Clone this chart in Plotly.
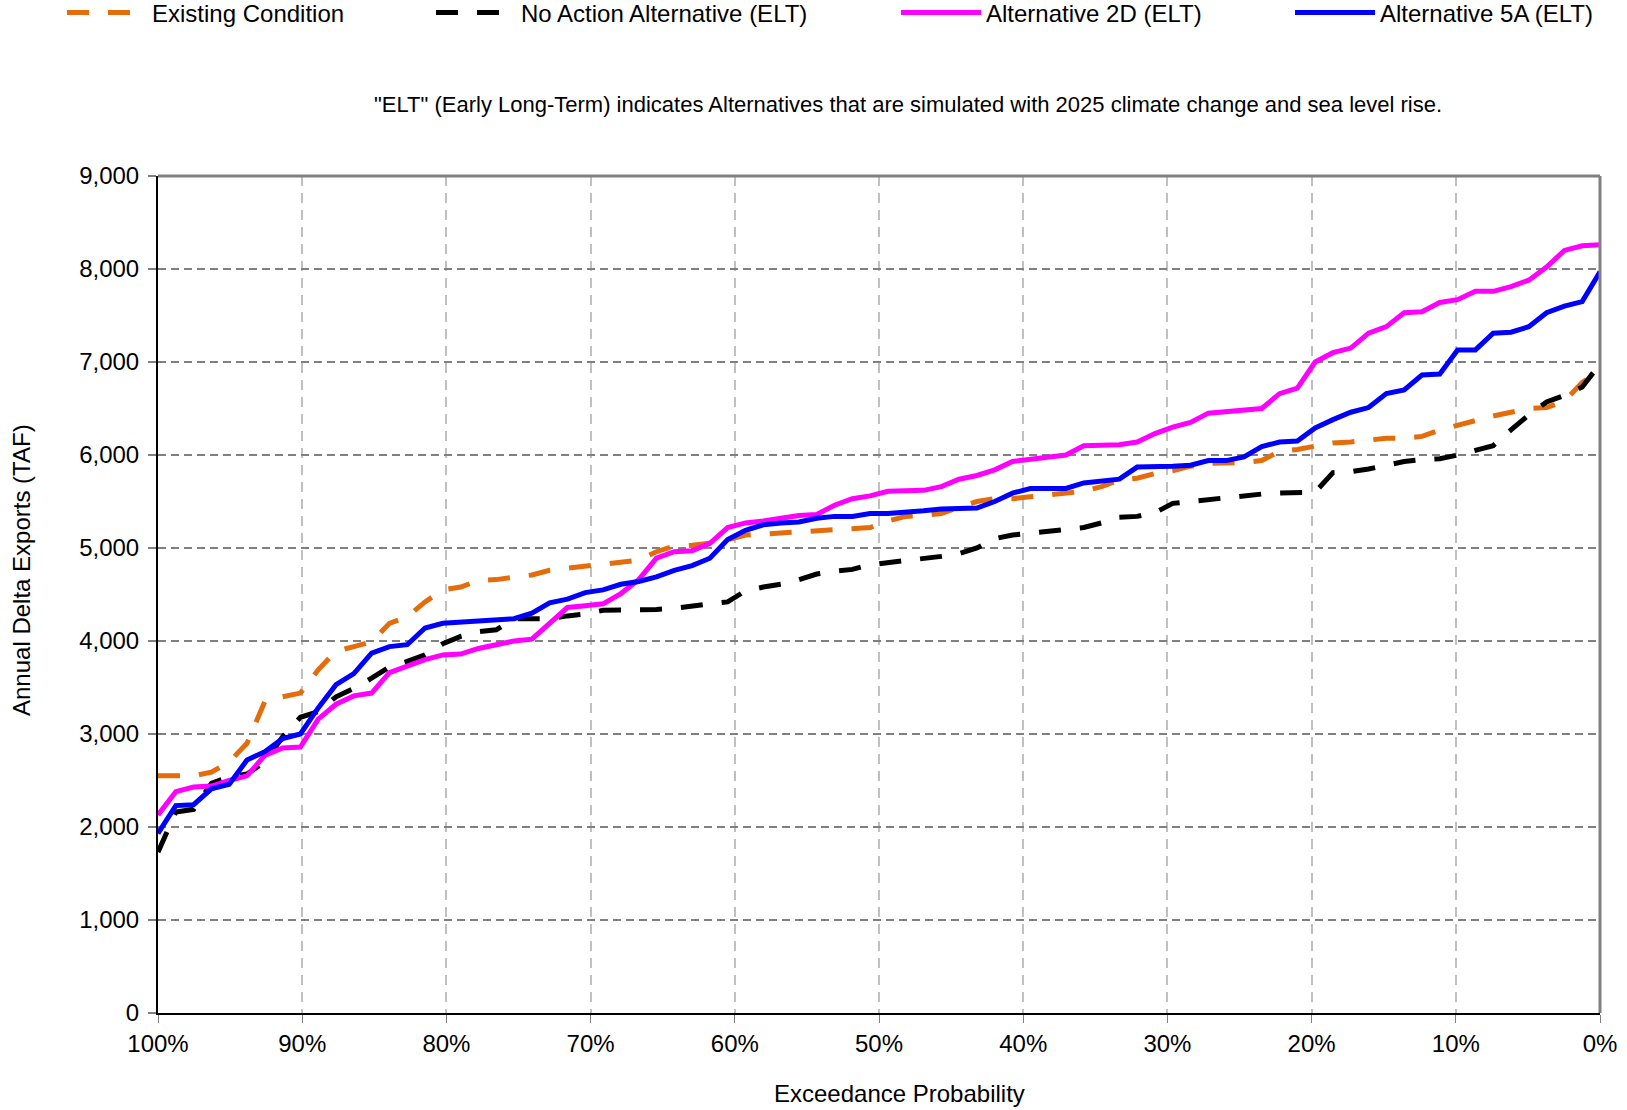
import plotly.graph_objects as go

# ---------------- data ----------------
N = 82
exceedance = [100.0 * (N - 1 - k) / (N - 1) for k in range(N)]

existing = [2550, 2550, 2550, 2590, 2700, 2900, 3350, 3400, 3440, 3690,
            3890, 3940, 3990, 4190, 4260, 4420, 4550, 4580, 4650, 4660,
            4680, 4710, 4760, 4780, 4800, 4830, 4850, 4870, 4960, 5020,
            5030, 5050, 5090, 5140, 5150, 5160, 5180, 5180, 5190, 5200,
            5220, 5290, 5340, 5350, 5370, 5440, 5500, 5530, 5530, 5550,
            5570, 5580, 5610, 5660, 5730, 5750, 5800, 5830, 5880, 5910,
            5910, 5920, 5940, 6040, 6060, 6100, 6130, 6140, 6160, 6180,
            6180, 6200, 6270, 6320, 6380, 6420, 6460, 6500, 6510, 6580,
            6780, 6900]

no_action = [1730, 2160, 2190, 2470, 2540, 2570, 2700, 2970, 3180, 3240,
             3400, 3490, 3600, 3720, 3780, 3850, 3970, 4050, 4100, 4120,
             4240, 4240, 4240, 4270, 4290, 4330, 4330, 4330, 4340, 4350,
             4380, 4400, 4420, 4540, 4580, 4610, 4660, 4720, 4750, 4770,
             4820, 4840, 4860, 4880, 4910, 4940, 5000, 5100, 5140, 5160,
             5180, 5200, 5220, 5270, 5330, 5340, 5380, 5480, 5500, 5520,
             5550, 5570, 5580, 5590, 5590, 5600, 5810, 5820, 5850, 5890,
             5930, 5950, 5960, 6000, 6050, 6100, 6270, 6430, 6570, 6640,
             6730, 6980]

alt_2d = [2130, 2380, 2430, 2440, 2500, 2550, 2770, 2850, 2860, 3160,
          3320, 3410, 3440, 3660, 3730, 3800, 3850, 3860, 3920, 3960,
          4000, 4020, 4190, 4360, 4380, 4400, 4510, 4660, 4890, 4960,
          4970, 5050, 5220, 5270, 5290, 5320, 5350, 5360, 5460, 5530,
          5560, 5610, 5610, 5620, 5660, 5740, 5780, 5840, 5930, 5950,
          5980, 6000, 6100, 6110, 6110, 6140, 6230, 6300, 6350, 6450,
          6470, 6490, 6500, 6660, 6720, 7000, 7100, 7150, 7310, 7380,
          7530, 7540, 7640, 7670, 7760, 7760, 7810, 7880, 8020, 8200,
          8250, 8260]

alt_5a = [1930, 2230, 2240, 2410, 2460, 2720, 2810, 2950, 3000, 3280,
          3530, 3650, 3870, 3940, 3960, 4140, 4190, 4200, 4210, 4230,
          4240, 4300, 4410, 4450, 4520, 4550, 4610, 4640, 4690, 4760,
          4810, 4890, 5090, 5190, 5250, 5270, 5280, 5320, 5340, 5340,
          5370, 5370, 5380, 5400, 5420, 5420, 5430, 5500, 5590, 5640,
          5640, 5640, 5700, 5720, 5740, 5870, 5870, 5880, 5890, 5940,
          5940, 5980, 6090, 6140, 6150, 6290, 6380, 6460, 6510, 6660,
          6700, 6860, 6870, 7130, 7130, 7310, 7320, 7380, 7530, 7600,
          7650, 7970]

series_names = ["Existing Condition", "No Action Alternative (ELT)",
                "Alternative 2D (ELT)", "Alternative 5A (ELT)"]
y_tick_values = [0, 1000, 2000, 3000, 4000, 5000, 6000, 7000, 8000, 9000]
x_tick_values = [100, 90, 80, 70, 60, 50, 40, 30, 20, 10, 0]
x_tick_labels = ["100%", "90%", "80%", "70%", "60%", "50%", "40%", "30%", "20%", "10%", "0%"]

note_text = '"ELT" (Early Long-Term) indicates Alternatives that are simulated with 2025 climate change and sea level rise.'
x_title = "Exceedance Probability"
y_title = "Annual Delta Exports (TAF)"

# ---------------- figure ----------------
FONT = "Liberation Sans, Arial, sans-serif"
W, H = 1627, 1110
ML, MR, MT, MB = 158, 27, 176, 97
pw = W - ML - MR
ph = H - MT - MB

fig = go.Figure()

styles = [
    dict(color="#E46C0A", dash="22px,19px", legend="legend"),
    dict(color="#000000", dash="22px,19px", legend="legend2"),
    dict(color="#FF00FF", dash="solid", legend="legend3"),
    dict(color="#0000FF", dash="solid", legend="legend4"),
]
for name, vals, st in zip(series_names, [existing, no_action, alt_2d, alt_5a], styles):
    fig.add_trace(go.Scatter(
        x=exceedance, y=vals, mode="lines", name=name,
        line=dict(color=st["color"], width=5, dash=st["dash"]),
        legend=st["legend"], hoverinfo="x+y+name",
    ))

legend_x = [67, 436, 901, 1295]
leg_top_px = -9.5
leg_common = dict(xref="paper", yref="paper", xanchor="left", yanchor="top",
                  y=(H - MB - leg_top_px) / ph, orientation="h", bgcolor="rgba(0,0,0,0)",
                  font=dict(family=FONT, size=24, color="#000000"),
                  itemwidth=80, tracegroupgap=0)
fig.update_layout(
    legend=dict(x=(legend_x[0] - 5 - ML) / pw, **leg_common),
    legend2=dict(x=(legend_x[1] - 5 - ML) / pw, **leg_common),
    legend3=dict(x=(legend_x[2] - 5 - ML) / pw, **leg_common),
    legend4=dict(x=(legend_x[3] - 5 - ML) / pw, **leg_common),
)

fig.update_layout(
    width=W, height=H,
    margin=dict(l=ML, r=MR, t=MT, b=MB, pad=0, autoexpand=False),
    paper_bgcolor="white", plot_bgcolor="white",
    font=dict(family=FONT, size=24, color="#000000"),
    showlegend=True,
    xaxis=dict(
        range=[100, 0], tickmode="array", tickvals=x_tick_values, ticktext=x_tick_labels,
        showgrid=True, gridcolor="#C0C0C0", gridwidth=2, griddash="10px,7px",
        showline=True, linecolor="#000000", linewidth=2,
        ticks="outside", ticklen=8, tickcolor="#808080", tickwidth=1,
        zeroline=False, tickfont=dict(size=24, family=FONT), automargin=False,
    ),
    yaxis=dict(
        range=[0, 9000], tickmode="array", tickvals=y_tick_values, tickformat=",",
        showgrid=True, gridcolor="#808080", gridwidth=2, griddash="8px,5px",
        showline=True, linecolor="#000000", linewidth=2,
        ticks="outside", ticklen=8, tickcolor="#808080", tickwidth=2,
        ticklabelstandoff=4, automargin=False,
        zeroline=False, tickfont=dict(size=24, family=FONT),
    ),
    shapes=[
        dict(type="line", xref="paper", yref="paper", x0=0, x1=1, y0=1, y1=1,
             line=dict(color="#808080", width=3), layer="above"),
        dict(type="line", xref="paper", yref="paper", x0=1, x1=1, y0=0, y1=1,
             line=dict(color="#808080", width=3), layer="above"),
    ],
    annotations=[
        dict(text=note_text, xref="paper", yref="paper",
             x=(908 - ML) / pw, y=(H - MB - 104) / ph, xanchor="center", yanchor="middle",
             showarrow=False, font=dict(family=FONT, size=22, color="#000000")),
        dict(text=x_title, xref="paper", yref="paper",
             x=(899 - ML) / pw, y=(H - MB - 1093) / ph, xanchor="center", yanchor="middle",
             showarrow=False, font=dict(family=FONT, size=24, color="#000000")),
        dict(text=y_title, xref="paper", yref="paper", textangle=-90,
             x=(21 - ML) / pw, y=(H - MB - 570) / ph, xanchor="center", yanchor="middle",
             showarrow=False, font=dict(family=FONT, size=24, color="#000000")),
    ],
)

fig.write_html("out.html")
